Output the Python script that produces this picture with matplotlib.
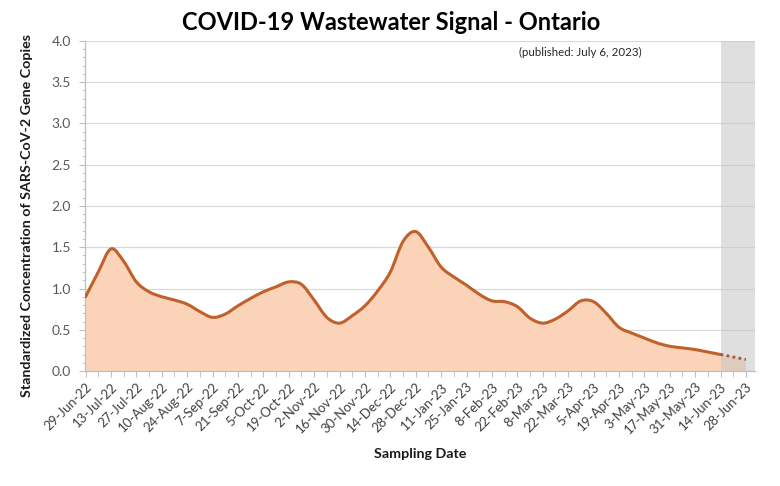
import matplotlib
matplotlib.use("Agg")
import matplotlib.pyplot as plt
import matplotlib.dates as mdates
from matplotlib.path import Path
from matplotlib.patches import PathPatch
import numpy as np
import pandas as pd

# ---- data ----
start_date = "2022-06-29"
values = [0.90, 1.20, 1.48, 1.33, 1.08, 0.96, 0.90, 0.86, 0.81, 0.72,
          0.65, 0.69, 0.79, 0.88, 0.96, 1.02, 1.08, 1.05, 0.86, 0.65,
          0.58, 0.67, 0.79, 0.97, 1.20, 1.57, 1.69, 1.50, 1.26, 1.14,
          1.04, 0.93, 0.85, 0.84, 0.78, 0.64, 0.58, 0.63, 0.73, 0.85,
          0.84, 0.70, 0.53, 0.46, 0.40, 0.34, 0.30, 0.28, 0.26, 0.23,
          0.20, 0.17, 0.14]
dates = pd.date_range(start_date, periods=len(values), freq="7D")
provisional_start = pd.Timestamp("2023-06-14")
tick_dates = pd.date_range("2022-06-29", "2023-06-28", freq="14D")
tick_labels = [f"{d.day}-{d.strftime('%b')}-{d.strftime('%y')}" for d in tick_dates]

title = "COVID-19 Wastewater Signal - Ontario"
note = "(published: July 6, 2023)"
ylabel = "Standardized Concentration of SARS-CoV-2 Gene Copies"
xlabel = "Sampling Date"

plt.rcParams['font.family'] = ['Lato', 'DejaVu Sans']


def smooth_path(xs, ys):
    """Catmull-Rom style Bezier path through the data points (like Excel's smoothed line)."""
    verts = [(xs[0], ys[0])]
    codes = [Path.MOVETO]
    n = len(xs)
    for i in range(n - 1):
        x0, y0 = (xs[i - 1], ys[i - 1]) if i > 0 else (xs[i], ys[i])
        x1, y1 = xs[i], ys[i]
        x2, y2 = xs[i + 1], ys[i + 1]
        x3, y3 = (xs[i + 2], ys[i + 2]) if i + 2 < n else (xs[i + 1], ys[i + 1])
        c1 = (x1 + (x2 - x0) / 6, y1 + (y2 - y0) / 6)
        c2 = (x2 - (x3 - x1) / 6, y2 - (y3 - y1) / 6)
        verts += [c1, c2, (x2, y2)]
        codes += [Path.CURVE4] * 3
    return verts, codes


fig = plt.figure(figsize=(7.8, 4.86), dpi=100)
ax = fig.add_axes([85/780, 1-371/486, (755-85)/780, (371-41)/486])

vals = np.array(values)
x = mdates.date2num(dates)
solid = dates <= provisional_start
dashed = dates >= provisional_start

# filled area under the smoothed curve
v_all, c_all = smooth_path(x, vals)
fill_verts = v_all + [(x[-1], 0), (x[0], 0), (x[0], 0)]
fill_codes = c_all + [Path.LINETO, Path.LINETO, Path.CLOSEPOLY]
ax.add_patch(PathPatch(Path(fill_verts, fill_codes), facecolor="#FBD3B8", lw=0, zorder=2))

ax.axvspan(mdates.date2num(provisional_start), mdates.date2num(pd.Timestamp("2023-07-03")),
           color="#C6C6C6", alpha=0.55, lw=0, zorder=3)

vs, cs = smooth_path(x[solid], vals[solid])
ax.add_patch(PathPatch(Path(vs, cs), facecolor="none", edgecolor="#C0612B", lw=2.2,
                       capstyle="round", joinstyle="round", zorder=4))
ax.plot(x[dashed], vals[dashed], color="#A8553A", lw=2.0, ls=(0, (1, 1.2)), zorder=4)

ax.set_xlim(mdates.date2num(pd.Timestamp("2022-06-29")) - 0.3,
            mdates.date2num(pd.Timestamp("2023-07-03")))
ax.set_ylim(0, 4.0)

ax.set_yticks(np.arange(0, 4.01, 0.5))
ax.set_yticklabels([f"{v:.1f}" for v in np.arange(0, 4.01, 0.5)])
ax.set_yticks(np.arange(0, 4.01, 0.1), minor=True)
ax.grid(axis="y", which="major", color="#D9D9D9", lw=0.9, zorder=0)

ax.set_xticks(mdates.date2num(tick_dates))
ax.set_xticklabels(tick_labels, rotation=45, ha="right", rotation_mode="anchor")
ax.set_xticks(mdates.date2num(pd.date_range("2022-06-29", "2023-07-03", freq="7D")), minor=True)

for s in ["top", "right"]:
    ax.spines[s].set_visible(False)
for s in ["left", "bottom"]:
    ax.spines[s].set_color("#BFBFBF")
    ax.spines[s].set_linewidth(0.9)

ax.tick_params(axis="y", which="major", length=4, color="#BFBFBF", labelsize=10,
               labelcolor="#595959", pad=6)
ax.tick_params(axis="y", which="minor", length=2.5, color="#BFBFBF")
ax.tick_params(axis="x", which="both", length=4, color="#BFBFBF", labelsize=9.5,
               labelcolor="#404040", pad=3)

ax.set_ylabel(ylabel, fontsize=10.3, fontweight="bold", color="#1a1a1a", labelpad=8)
ax.yaxis.set_label_coords(-0.077, 0.47)
ax.set_xlabel(xlabel, fontsize=10.3, fontweight="bold", color="#1a1a1a", labelpad=8)

fig.text(0.5 * (195 + 588) / 780, 1 - 22/486, title, fontsize=17, fontweight="bold",
         ha="center", va="center", color="black")
fig.text(642/780, 1 - 52/486, note, fontsize=8.3, ha="right", va="center", color="#262626")

fig.savefig("out.png", dpi=100)
